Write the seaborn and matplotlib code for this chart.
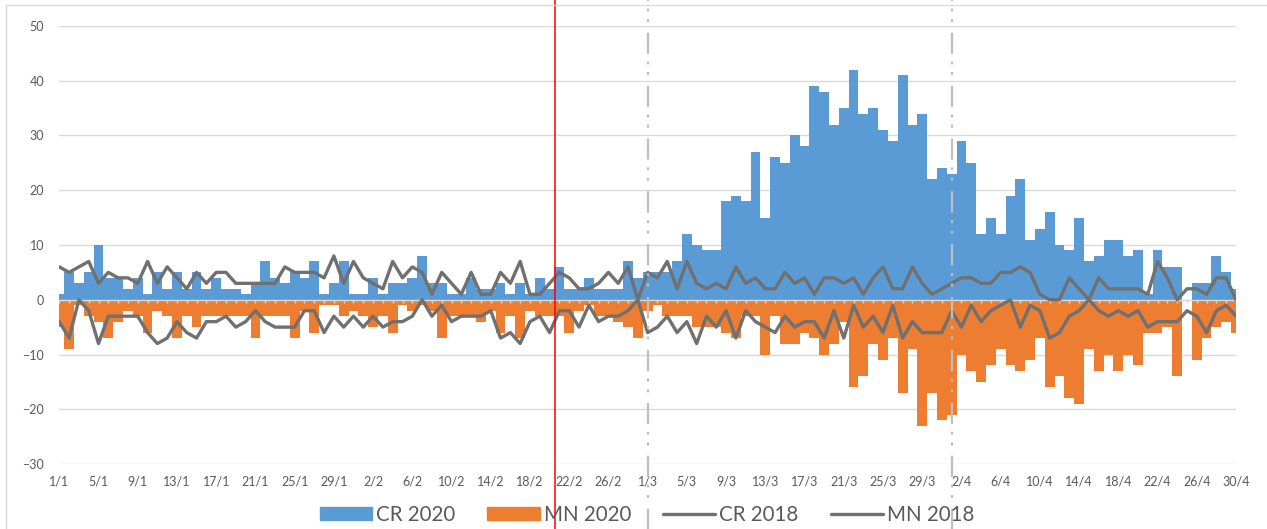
import numpy as np
import pandas as pd
import matplotlib
matplotlib.use("Agg")
import matplotlib.pyplot as plt
from matplotlib.patches import Patch, Rectangle
from matplotlib.lines import Line2D
import seaborn as sns

# ---------------- data (1 Jan - 30 Apr 2020, daily) ----------------
cr_2020 = [1, 5, 3, 5, 10, 4, 4, 2, 4, 1,
           5, 2, 5, 2, 5, 2, 4, 2, 2, 1,
           3, 7, 4, 3, 5, 4, 7, 1, 3, 7,
           1, 1, 4, 1, 3, 3, 4, 8, 3, 3,
           1, 1, 4, 2, 2, 3, 1, 3, 1, 4,
           2, 6, 2, 2, 4, 2, 2, 2, 7, 4,
           5, 5, 5, 7, 12, 10, 9, 9, 18, 19,
           18, 27, 15, 26, 25, 30, 28, 39, 38, 32,
           35, 42, 34, 35, 31, 29, 41, 32, 34, 22,
           24, 23, 29, 25, 12, 15, 12, 19, 22, 11,
           13, 16, 10, 9, 15, 7, 8, 11, 11, 8,
           9, 1, 9, 6, 6, 0, 3, 3, 8, 5,
           2]
mn_2020 = [-5, -9, -1, -3, -4, -7, -4, -2, -3, -6,
           -2, -3, -7, -3, -5, -3, -3, -3, -3, -3,
           -7, -3, -3, -3, -7, -2, -6, -1, -1, -3,
           -2, -3, -5, -3, -6, -1, -2, -1, -2, -7,
           -3, -3, -3, -4, -2, -6, -3, -7, -2, -3,
           -3, -3, -6, -2, -1, -3, -3, -4, -5, -7,
           -2, -1, -3, -3, -3, -5, -5, -5, -6, -7,
           -3, -3, -10, -3, -8, -8, -6, -7, -10, -8,
           -4, -16, -14, -8, -11, -7, -17, -9, -23, -17,
           -22, -21, -10, -13, -15, -12, -9, -12, -13, -11,
           -7, -16, -14, -18, -19, -9, -13, -10, -13, -10,
           -12, -6, -6, -5, -14, 0, -11, -7, -5, -4,
           -6]
cr_2018 = [6, 5, 6, 7, 3, 5, 4, 4, 3, 7,
           3, 6, 4, 2, 5, 3, 5, 5, 3, 3,
           3, 3, 3, 6, 5, 5, 5, 4, 8, 3,
           7, 4, 3, 2, 7, 4, 6, 5, 1, 5,
           3, 1, 5, 1, 1, 5, 3, 7, 1, 1,
           3, 5, 4, 2, 2, 3, 5, 3, 6, 0,
           5, 4, 7, 2, 7, 3, 2, 3, 2, 6,
           3, 4, 2, 2, 5, 3, 4, 1, 4, 4,
           3, 4, 1, 4, 6, 2, 2, 6, 3, 1,
           2, 3, 4, 4, 3, 3, 5, 5, 6, 5,
           1, 0, 0, 4, 2, 0, 4, 2, 2, 2,
           2, 1, 7, 4, 0, 2, 2, 1, 4, 4,
           0]
mn_2018 = [-4, -7, 0, -2, -8, -3, -3, -3, -3, -6,
           -8, -7, -4, -6, -7, -4, -4, -3, -5, -4,
           -2, -4, -5, -5, -5, -2, -2, -6, -3, -5,
           -3, -5, -3, -5, -4, -4, -3, 0, -3, -1,
           -4, -3, -3, -3, -2, -7, -6, -8, -4, -3,
           -6, -2, -2, -5, -1, -4, -3, -3, -2, 0,
           -6, -5, -3, -6, -4, -8, -3, -5, -2, -7,
           -2, -4, -5, -6, -3, -5, -4, -4, -7, -2,
           -7, -1, -5, -3, -6, -1, -7, -4, -6, -6,
           -6, -2, -5, -1, -4, -2, -1, 0, -5, -1,
           -2, -7, -6, -3, -2, 0, -2, -3, -2, -3,
           -2, -5, -4, -4, -4, -2, -3, -6, -2, -1,
           -3]
tick_labels = ["1/1", "5/1", "9/1", "13/1", "17/1", "21/1", "25/1", "29/1",
               "2/2", "6/2", "10/2", "14/2", "18/2", "22/2", "26/2",
               "1/3", "5/3", "9/3", "13/3", "17/3", "21/3", "25/3", "29/3",
               "2/4", "6/4", "10/4", "14/4", "18/4", "22/4", "26/4", "30/4"]
series_names = ["CR 2020", "MN 2020", "CR 2018", "MN 2018"]
marker_days = {"red": 50.55, "dash1": 60, "dash2": 91}

# ---------------- styling ----------------
BLUE = "#5B9BD5"
ORANGE = "#ED7D31"
GRAY = "#707070"
GRID = "#D9D9D9"
TXT = "#595959"

sns.set_theme(style="white")
plt.rcParams["font.family"] = ["Lato", "DejaVu Sans"]

n = len(cr_2020)
df = pd.DataFrame({"day": np.arange(n), "CR 2020": cr_2020, "MN 2020": mn_2020,
                   "CR 2018": cr_2018, "MN 2018": mn_2018})

fig = plt.figure(figsize=(12.67, 5.29), dpi=100)
ax = fig.add_axes([59.3 / 1267, 65 / 529, (1236 - 59.3) / 1267, 438 / 529])

sns.barplot(data=df, x="day", y="CR 2020", native_scale=True, width=1.0,
            color=BLUE, saturation=1, errorbar=None, ax=ax, linewidth=0, zorder=2)
sns.barplot(data=df, x="day", y="MN 2020", native_scale=True, width=1.0,
            color=ORANGE, saturation=1, errorbar=None, ax=ax, linewidth=0, zorder=2)
sns.lineplot(data=df, x="day", y="CR 2018", color=GRAY, lw=2.4, ax=ax, zorder=4,
             solid_joinstyle="round", solid_capstyle="round")
sns.lineplot(data=df, x="day", y="MN 2018", color=GRAY, lw=2.4, ax=ax, zorder=4,
             solid_joinstyle="round", solid_capstyle="round")

ax.set_xlim(0, n - 1)
ax.set_ylim(-30, 50)
ax.set_yticks(np.arange(-30, 51, 10))
ax.yaxis.grid(True, color=GRID, lw=1.0, zorder=0)
ax.set_axisbelow(True)
for s in ax.spines.values():
    s.set_visible(False)

# category axis line at zero with small tick marks
ax.axhline(0, color=GRID, lw=1.0, zorder=3)
ax.vlines(df["day"], 0, -0.55, color=GRID, lw=1.0, zorder=3)

ax.set_xticks(np.arange(0, n, 4))
ax.set_xticklabels(tick_labels)
ax.tick_params(axis="x", length=0, pad=8, labelsize=9, labelcolor=TXT)
ax.tick_params(axis="y", length=0, pad=11, labelsize=9, labelcolor=TXT)
ax.set_xlabel("")
ax.set_ylabel("")

# vertical marker lines
ax.axvline(marker_days["red"], ymin=-0.16, ymax=1.07, color="#FF0000", lw=1.1,
           clip_on=False, zorder=6)
dd = (0, (9.6, 4.8, 1.3, 3.4, 1.3, 3.4))
for key in ("dash1", "dash2"):
    ax.axvline(marker_days[key], ymin=-0.16, ymax=1.06, color="#BFBFBF", lw=1.6,
               linestyle=dd, clip_on=False, zorder=5)

# chart border
fig.add_artist(Rectangle((6 / 1267, -0.05), 1.2, (529 - 4.5) / 529 + 0.05,
                         transform=fig.transFigure, fill=False, ec=GRID, lw=1.0))

handles = [Patch(color=BLUE), Patch(color=ORANGE),
           Line2D([], [], color=GRAY, lw=2.4), Line2D([], [], color=GRAY, lw=2.4)]
leg = fig.legend(handles, series_names, loc="center", bbox_to_anchor=(647 / 1267, 14 / 529),
                 ncol=4, frameon=False, fontsize=14.8, handlelength=2.55, handleheight=0.6,
                 handletextpad=0.2, columnspacing=1.55, labelcolor=TXT)

fig.savefig("out.png", dpi=100)
